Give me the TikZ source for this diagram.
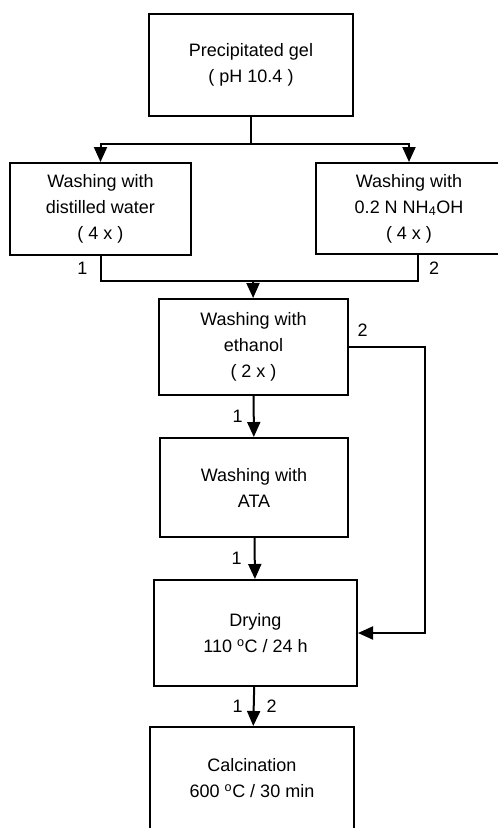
\documentclass[tikz,border=0pt]{standalone}
\usepackage{fontspec}
\setmainfont{Liberation Sans}
\usetikzlibrary{arrows.meta}

\begin{document}
\begin{tikzpicture}[x=1pt, y=-1pt, line width=2pt,
    >={Triangle[width=13pt,length=15pt]},
    box/.style={draw, align=center, inner sep=0pt,
        font=\fontsize{18}{26}\selectfont,
        execute at begin node={\rule{0pt}{27pt}}},
    num/.style={inner sep=0pt, font=\fontsize{18}{26}\selectfont}]
        \useasboundingbox (0,0) rectangle (498,828);

        \node[box, minimum width=204pt, minimum height=102pt] (gel) at (251,65) {Precipitated gel\\( pH 10.4 )};
        \node[box, minimum width=181pt, minimum height=92pt] (water) at (100.5,209) {Washing with\\distilled water\\( 4 x )};
        \node[box, minimum width=186pt, minimum height=91pt] (nh) at (409,208.5) {Washing with\\0.2 N NH\textsubscript{4}OH\\( 4 x )};
        \node[box, minimum width=189pt, minimum height=96pt] (eth) at (253.5,347) {Washing with\\ethanol\\( 2 x )};
        \node[box, minimum width=188pt, minimum height=99pt] (ata) at (254,487.5) {Washing with\\ATA};
        \node[box, minimum width=203pt, minimum height=106pt] (dry) at (255.5,633) {Drying\\110 \textsuperscript{o}C / 24 h};
        \node[box, minimum width=204pt, minimum height=102pt] (calc) at (252,778) {Calcination\\600 \textsuperscript{o}C / 30 min};

        \coordinate (split) at (251,144);
        \coordinate (merge) at (253,281);

        \draw (gel) -- (split);
        \draw[->] (split) -| (water);
        \draw[->] (split) -| (nh);

        \draw (water.south) -- node[num, left=12pt]{1} (water.south |- merge) -- (merge);
        \draw ([xshift=9pt]nh.south) -- node[num, right=10pt]{2} ([xshift=9pt]nh.south |- merge) -- (merge);
        \draw[->] (merge) -- (eth);

        \draw[->] (eth) -- node[num, left=10pt]{1} (ata);
        \draw[->] (eth.east) -- node[num, pos=0.18, above=10pt]{2} ++(76,0) |- (dry.east);
        \draw[->] (ata) -- node[num, left=12pt]{1} (dry);
        \draw[->] (dry) -- node[num, left=10pt]{1} node[num, right=12pt]{2} (calc);
    \end{tikzpicture}
\end{document}
